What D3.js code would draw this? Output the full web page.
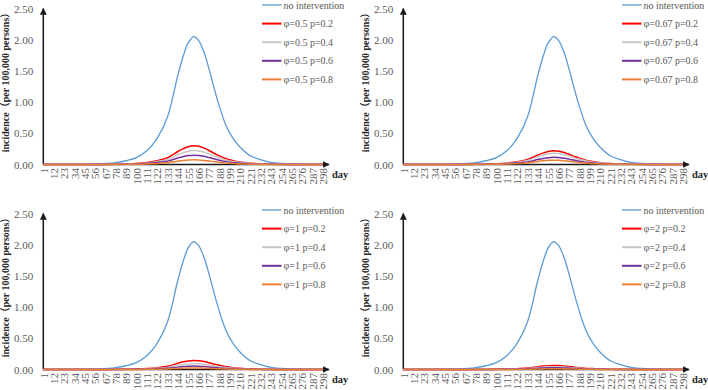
<!DOCTYPE html>
<html>
<head>
<meta charset="utf-8">
<script src="https://cdnjs.cloudflare.com/ajax/libs/d3/7.8.5/d3.min.js"></script>
<style>
  body { margin: 0; background: #fff; }
  svg { display: block; }
  svg text { font-family: "Liberation Serif", "DejaVu Serif", serif; }
  .ytitle { font-family: "Liberation Serif", "Noto Sans CJK SC", serif; }
</style>
</head>
<body>
<div id="chart"></div>
<script>
var days = [1, 12, 23, 34, 45, 56, 67, 78, 89, 100, 111, 122, 133, 144, 150, 155, 161, 166, 172, 177, 183, 188, 194, 199, 205, 210, 221, 232, 243, 254, 265, 276, 287, 298];

var xTickLabels = [1, 12, 23, 34, 45, 56, 67, 78, 89, 100, 111, 122, 133, 144, 155, 166, 177, 188, 199, 210, 221, 232, 243, 254, 265, 276, 287, 298];
var yTickValues = [0, 0.5, 1, 1.5, 2, 2.5];

var phiLabels = ["0.5", "0.67", "1", "2"];
var pLabels = ["0.2", "0.4", "0.6", "0.8"];

// same curve in every panel
var noIntervention = [0, 0.001, 0.001, 0.002, 0.003, 0.006, 0.015, 0.03, 0.06, 0.11, 0.22, 0.42, 0.76, 1.43, 1.75, 1.95, 2.05, 1.99, 1.79, 1.54, 1.20, 0.94, 0.67, 0.51, 0.37, 0.28, 0.14, 0.08, 0.035, 0.017, 0.008, 0.004, 0.002, 0.001];

// phi = 0.5
var phi05_p02 = [0, 0, 0, 0, 0, 0.001, 0.002, 0.005, 0.009, 0.016, 0.032, 0.062, 0.108, 0.208, 0.254, 0.285, 0.30, 0.291, 0.262, 0.225, 0.176, 0.139, 0.10, 0.076, 0.054, 0.041, 0.02, 0.012, 0.005, 0.002, 0.001, 0.001, 0, 0];
var phi05_p04 = [0, 0, 0, 0, 0, 0.001, 0.002, 0.003, 0.007, 0.012, 0.024, 0.046, 0.081, 0.156, 0.19, 0.214, 0.225, 0.218, 0.196, 0.169, 0.132, 0.104, 0.075, 0.057, 0.041, 0.031, 0.015, 0.009, 0.004, 0.002, 0.001, 0, 0, 0];
var phi05_p06 = [0, 0, 0, 0, 0, 0, 0.001, 0.002, 0.004, 0.008, 0.016, 0.031, 0.054, 0.104, 0.127, 0.143, 0.15, 0.146, 0.131, 0.113, 0.088, 0.069, 0.05, 0.038, 0.027, 0.021, 0.01, 0.006, 0.003, 0.001, 0.001, 0, 0, 0];
var phi05_p08 = [0, 0, 0, 0, 0, 0, 0.001, 0.001, 0.002, 0.004, 0.008, 0.015, 0.027, 0.052, 0.064, 0.071, 0.075, 0.073, 0.065, 0.056, 0.044, 0.035, 0.025, 0.019, 0.014, 0.01, 0.005, 0.003, 0.001, 0.001, 0, 0, 0, 0];

// phi = 0.67
var phi067_p02 = [0, 0, 0, 0, 0, 0.001, 0.002, 0.003, 0.006, 0.012, 0.024, 0.045, 0.079, 0.152, 0.186, 0.209, 0.22, 0.213, 0.192, 0.165, 0.129, 0.102, 0.073, 0.056, 0.04, 0.03, 0.015, 0.009, 0.004, 0.002, 0.001, 0, 0, 0];
var phi067_p04 = [0, 0, 0, 0, 0, 0.001, 0.001, 0.003, 0.005, 0.01, 0.019, 0.037, 0.065, 0.125, 0.152, 0.171, 0.18, 0.175, 0.157, 0.135, 0.105, 0.083, 0.06, 0.046, 0.032, 0.025, 0.012, 0.007, 0.003, 0.001, 0.001, 0, 0, 0];
var phi067_p06 = [0, 0, 0, 0, 0, 0, 0.001, 0.002, 0.003, 0.006, 0.012, 0.024, 0.042, 0.08, 0.097, 0.109, 0.115, 0.112, 0.1, 0.086, 0.067, 0.053, 0.038, 0.029, 0.021, 0.016, 0.008, 0.004, 0.002, 0.001, 0, 0, 0, 0];
var phi067_p08 = [0, 0, 0, 0, 0, 0, 0, 0.001, 0.002, 0.004, 0.007, 0.014, 0.025, 0.049, 0.06, 0.067, 0.07, 0.068, 0.061, 0.052, 0.041, 0.032, 0.023, 0.018, 0.013, 0.01, 0.005, 0.003, 0.001, 0.001, 0, 0, 0, 0];

// phi = 1
var phi1_p02 = [0, 0, 0, 0, 0, 0, 0.001, 0.002, 0.004, 0.008, 0.016, 0.03, 0.052, 0.1, 0.123, 0.138, 0.145, 0.141, 0.127, 0.109, 0.085, 0.067, 0.048, 0.037, 0.026, 0.02, 0.01, 0.006, 0.002, 0.001, 0.001, 0, 0, 0];
var phi1_p04 = [0, 0, 0, 0, 0, 0, 0.001, 0.001, 0.003, 0.005, 0.01, 0.019, 0.034, 0.066, 0.081, 0.09, 0.095, 0.092, 0.083, 0.071, 0.056, 0.044, 0.032, 0.024, 0.017, 0.013, 0.006, 0.004, 0.002, 0.001, 0, 0, 0, 0];
var phi1_p06 = [0, 0, 0, 0, 0, 0, 0, 0.001, 0.002, 0.003, 0.006, 0.011, 0.02, 0.038, 0.047, 0.052, 0.055, 0.053, 0.048, 0.041, 0.032, 0.025, 0.018, 0.014, 0.01, 0.008, 0.004, 0.002, 0.001, 0, 0, 0, 0, 0];
var phi1_p08 = [0, 0, 0, 0, 0, 0, 0, 0, 0.001, 0.001, 0.003, 0.005, 0.009, 0.017, 0.021, 0.024, 0.025, 0.024, 0.022, 0.019, 0.015, 0.012, 0.008, 0.006, 0.005, 0.003, 0.002, 0.001, 0, 0, 0, 0, 0, 0];

// phi = 2
var phi2_p02 = [0, 0, 0, 0, 0, 0, 0, 0.001, 0.002, 0.004, 0.007, 0.013, 0.023, 0.045, 0.055, 0.062, 0.065, 0.063, 0.057, 0.049, 0.038, 0.03, 0.022, 0.017, 0.012, 0.009, 0.004, 0.003, 0.001, 0.001, 0, 0, 0, 0];
var phi2_p04 = [0, 0, 0, 0, 0, 0, 0, 0.001, 0.001, 0.002, 0.005, 0.009, 0.016, 0.031, 0.038, 0.043, 0.045, 0.044, 0.039, 0.034, 0.026, 0.021, 0.015, 0.011, 0.008, 0.006, 0.003, 0.002, 0.001, 0, 0, 0, 0, 0];
var phi2_p06 = [0, 0, 0, 0, 0, 0, 0, 0, 0.001, 0.002, 0.003, 0.006, 0.011, 0.021, 0.026, 0.029, 0.03, 0.029, 0.026, 0.022, 0.018, 0.014, 0.01, 0.008, 0.005, 0.004, 0.002, 0.001, 0.001, 0, 0, 0, 0, 0];
var phi2_p08 = [0, 0, 0, 0, 0, 0, 0, 0, 0, 0.001, 0.001, 0.002, 0.004, 0.008, 0.01, 0.011, 0.012, 0.012, 0.01, 0.009, 0.007, 0.006, 0.004, 0.003, 0.002, 0.002, 0.001, 0, 0, 0, 0, 0, 0, 0];

var panelSeries = [
    [phi05_p02, phi05_p04, phi05_p06, phi05_p08],
    [phi067_p02, phi067_p04, phi067_p06, phi067_p08],
    [phi1_p02, phi1_p04, phi1_p06, phi1_p08],
    [phi2_p02, phi2_p04, phi2_p06, phi2_p08]
];

var blue = "#5b9bd5";
var colors = ["#ff0000", "#c8c8c8", "#7030a0", "#ed7d31"];
var textGrey = "#595959";

var svg = d3.select("#chart")
    .append("svg")
    .attr("width", 708)
    .attr("height", 390);

// arrow head for the axes
svg.append("defs").append("marker")
    .attr("id", "arrow")
    .attr("viewBox", "0 0 10 10")
    .attr("refX", 9)
    .attr("refY", 5)
    .attr("markerWidth", 7)
    .attr("markerHeight", 7)
    .attr("markerUnits", "userSpaceOnUse")
    .attr("orient", "auto")
    .append("path")
    .attr("d", "M0,0 L10,5 L0,10 Z")
    .attr("fill", "#1a1a1a");

var x = d3.scaleLinear().domain([1, 298]).range([43.3, 322.7]);
var y = d3.scaleLinear().domain([0, 2.5]).range([164.5, 8.5]);

var line = d3.line()
    .curve(d3.curveCatmullRom.alpha(0.5))
    .x(function (d, i) { return x(days[i]); })
    .y(function (d) { return y(d); });

panelSeries.forEach(function (series, k) {
    var col = k % 2, row = Math.floor(k / 2);
    var g = svg.append("g")
        .attr("transform", "translate(" + (col * 360) + "," + (row * 205) + ")");

    // y axis labels
    var yAxis = g.append("g")
        .attr("transform", "translate(" + x(1) + ",0)")
        .call(d3.axisLeft(y).tickValues(yTickValues).tickFormat(d3.format(".2f")).tickSize(0).tickPadding(10));
    yAxis.select(".domain").remove();
    yAxis.selectAll("text")
        .attr("font-size", 11)
        .attr("fill", textGrey);

    // x axis labels, rotated
    var xAxis = g.append("g")
        .attr("transform", "translate(0," + y(0) + ")")
        .call(d3.axisBottom(x).tickValues(xTickLabels).tickSize(0));
    xAxis.select(".domain").remove();
    xAxis.selectAll("text")
        .attr("transform", "rotate(-90)")
        .attr("text-anchor", "end")
        .attr("x", -3.5)
        .attr("y", 0)
        .attr("dy", "0.35em")
        .attr("font-size", 11)
        .attr("fill", textGrey);

    // axis lines with arrows
    g.append("line")
        .attr("x1", x(1)).attr("y1", y(0))
        .attr("x2", x(1)).attr("y2", 8.5)
        .attr("stroke", "#1a1a1a")
        .attr("stroke-width", 1.5)
        .attr("marker-end", "url(#arrow)");
    g.append("line")
        .attr("x1", x(1)).attr("y1", y(0))
        .attr("x2", 329).attr("y2", y(0))
        .attr("stroke", "#1a1a1a")
        .attr("stroke-width", 1.5)
        .attr("marker-end", "url(#arrow)");

    // curves
    g.append("path")
        .datum(noIntervention)
        .attr("fill", "none")
        .attr("stroke", blue)
        .attr("stroke-width", 1.3)
        .attr("d", line);

    series.forEach(function (s, j) {
        g.append("path")
            .datum(s)
            .attr("fill", "none")
            .attr("stroke", colors[j])
            .attr("stroke-width", 1.5)
            .attr("d", line);
    });

    // titles
    g.append("text")
        .attr("class", "ytitle")
        .attr("transform", "translate(9,80) rotate(-90)")
        .attr("text-anchor", "middle")
        .attr("font-size", 10)
        .attr("font-weight", "bold")
        .attr("fill", "#262626")
        .text("incidence（per 100,000 persons）");

    g.append("text")
        .attr("x", 332)
        .attr("y", 177.5)
        .attr("font-size", 10.5)
        .attr("font-weight", "bold")
        .attr("fill", "#262626")
        .text("day");

    // legend
    var legendNames = ["no intervention"].concat(pLabels.map(function (p) {
        return "\u03c6=" + phiLabels[k] + " p=" + p;
    }));
    var legendColors = [blue].concat(colors);
    legendNames.forEach(function (name, j) {
        var ly = 5 + j * 18.6;
        g.append("line")
            .attr("x1", 262).attr("x2", 281.5)
            .attr("y1", ly).attr("y2", ly)
            .attr("stroke", legendColors[j])
            .attr("stroke-width", j === 0 ? 1.3 : 2);
        g.append("text")
            .attr("x", 283.5)
            .attr("y", ly)
            .attr("dy", "0.35em")
            .attr("font-size", 10)
            .attr("fill", textGrey)
            .text(name);
    });
});
</script>
</body>
</html>
